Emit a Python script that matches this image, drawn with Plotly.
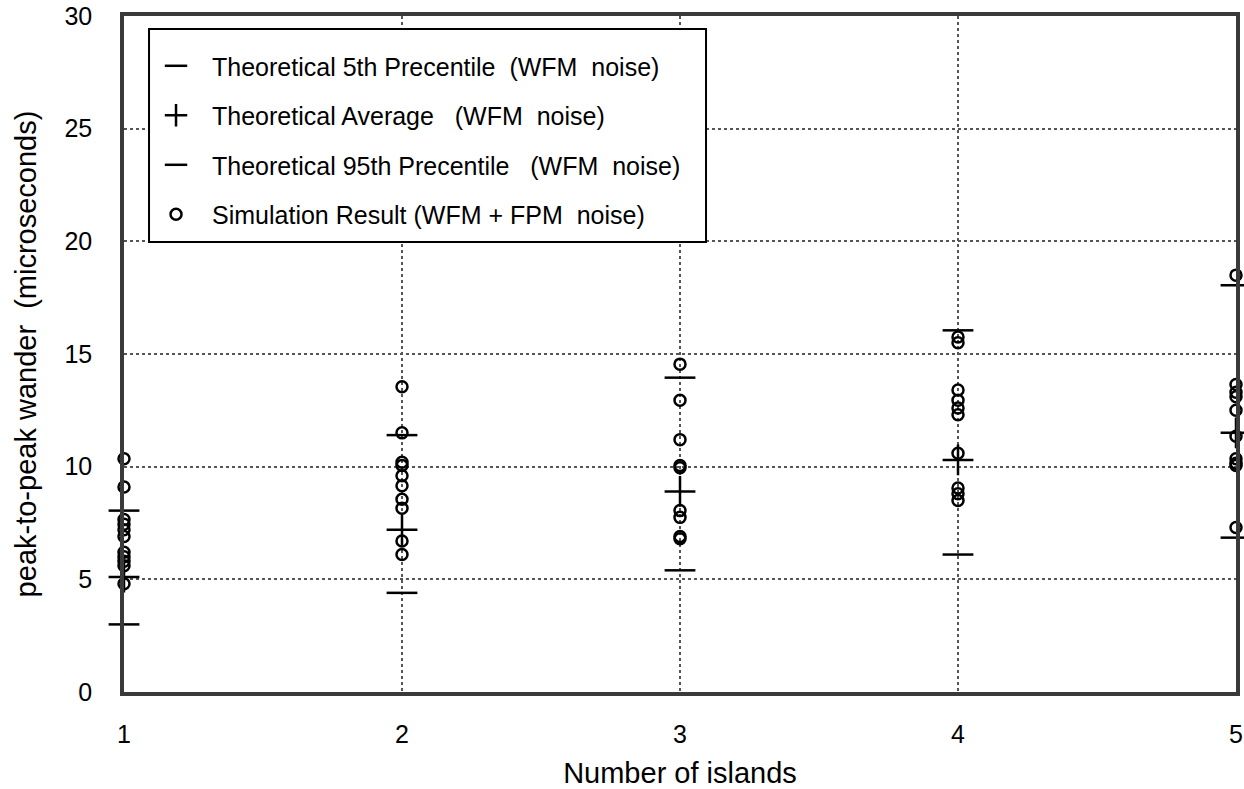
import plotly.graph_objects as go

islands = [1, 2, 3, 4, 5]
p5 = [3.0, 4.4, 5.4, 6.1, 6.85]
avg = [5.1, 7.2, 8.9, 10.3, 11.5]
p95 = [8.05, 11.4, 13.95, 16.05, 18.05]

sim_1 = [10.35, 9.1, 7.65, 7.45, 7.2, 6.9, 6.2, 6.0, 5.8, 5.6, 4.8]
sim_2 = [13.55, 11.5, 10.2, 10.05, 9.6, 9.15, 8.55, 8.15, 6.7, 6.1]
sim_3 = [14.55, 12.95, 11.2, 10.05, 9.95, 8.05, 7.75, 6.9, 6.8]
sim_4 = [15.75, 15.5, 13.4, 12.95, 12.6, 12.3, 10.6, 9.05, 8.8, 8.5]
sim_5 = [18.5, 13.65, 13.3, 13.1, 12.5, 11.35, 10.35, 10.15, 10.05, 7.3]
sims = [sim_1, sim_2, sim_3, sim_4, sim_5]

names = [
    "Theoretical 5th Precentile\u00a0 (WFM\u00a0 noise)",
    "Theoretical Average\u00a0\u00a0 (WFM\u00a0 noise)",
    "Theoretical 95th Precentile\u00a0\u00a0 (WFM\u00a0 noise)",
    "Simulation Result (WFM + FPM\u00a0 noise)",
]

sim_x = []
sim_y = []
for xi, vals in zip(islands, sims):
    sim_x += [xi] * len(vals)
    sim_y += vals

FONT = "Liberation Sans, Arial, sans-serif"

fig = go.Figure()
fig.add_trace(go.Scatter(x=islands, y=p5, mode="markers", name=names[0], legendgroup="a",
                         marker=dict(symbol="line-ew", size=22, color="black",
                                     line=dict(color="black", width=2.5)),
                         cliponaxis=False))
fig.add_trace(go.Scatter(x=islands, y=avg, mode="markers", name=names[1], legendgroup="b",
                         marker=dict(symbol="cross-thin", size=22, color="black",
                                     line=dict(color="black", width=2.5)),
                         cliponaxis=False))
fig.add_trace(go.Scatter(x=islands, y=p95, mode="markers", name=names[2], legendgroup="c",
                         marker=dict(symbol="line-ew", size=22, color="black",
                                     line=dict(color="black", width=2.5)),
                         cliponaxis=False))
fig.add_trace(go.Scatter(x=sim_x, y=sim_y, mode="markers", name=names[3], legendgroup="d",
                         marker=dict(symbol="circle-open", size=11, color="black",
                                     line=dict(color="black", width=2.5)),
                         cliponaxis=False))

axis_common = dict(
    showgrid=True, gridcolor="#555555", gridwidth=2, griddash="dot",
    showline=True, mirror=True, linecolor="#3a3a3a", linewidth=3.5,
    zeroline=False, ticks="", tickfont=dict(size=25, color="black", family=FONT),
)

# legend frame (paper coordinates of the plotting area)
fig.add_shape(type="rect", xref="paper", yref="paper",
              x0=0.0225, x1=0.5234, y0=0.6657, y1=0.9808,
              line=dict(color="black", width=2), fillcolor="white", layer="above")

fig.update_layout(
    width=1244, height=789,
    margin=dict(l=124, r=8, t=16, b=97, autoexpand=False),
    paper_bgcolor="white", plot_bgcolor="white",
    font=dict(family=FONT, size=24, color="black"),
    showlegend=True,
    legend=dict(
        x=0.0225, y=0.960, xanchor="left", yanchor="top",
        bgcolor="rgba(0,0,0,0)", borderwidth=0,
        font=dict(size=25, family=FONT, color="black"),
        tracegroupgap=14, traceorder="grouped", indentation=-9, itemwidth=62,
    ),
    xaxis=dict(range=[1, 5], tickvals=islands, ticklabelstandoff=17,
               title=dict(text="Number of islands", standoff=19,
                          font=dict(size=29, family=FONT, color="black")),
               automargin=False, **axis_common),
    yaxis=dict(range=[0, 30], dtick=5, ticklabelstandoff=23,
               title=dict(text="peak-to-peak wander\u00a0 (microseconds)", standoff=20,
                          font=dict(size=29, family=FONT, color="black")),
               automargin=False, **axis_common),
)

fig.write_html("out.html", config={"displayModeBar": False},
               post_script="document.body.style.margin='0px';")
